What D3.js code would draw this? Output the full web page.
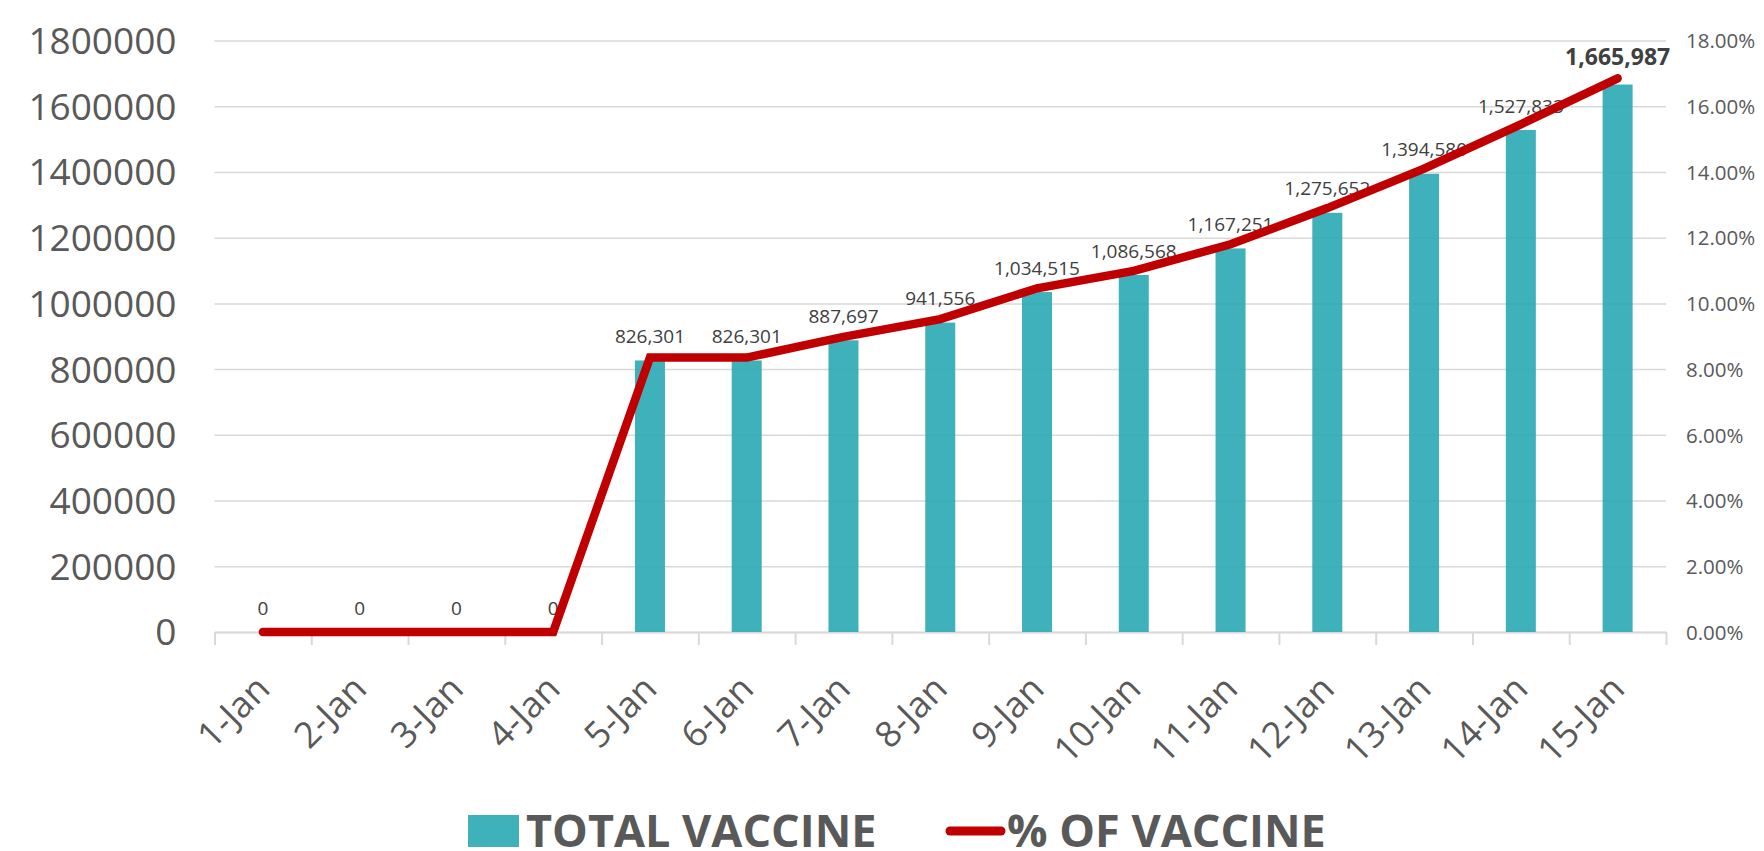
<!DOCTYPE html>
<html>
<head>
<meta charset="utf-8">
<script src="https://cdn.jsdelivr.net/npm/d3@7"></script>
<style>
  html, body { margin: 0; padding: 0; background: #fff; }
  svg { display: block; font-family: "Open Sans", "DejaVu Sans", sans-serif; }
  .grid line { stroke: #d9d9d9; stroke-width: 1.5; }
  .grid path { display: none; }
</style>
</head>
<body>
<svg id="chart" width="1764" height="851"></svg>
<script>
var dates = ["1-Jan","2-Jan","3-Jan","4-Jan","5-Jan","6-Jan","7-Jan","8-Jan",
  "9-Jan","10-Jan","11-Jan","12-Jan","13-Jan","14-Jan","15-Jan"];
var totalVaccine = [0,0,0,0,826301,826301,887697,941556,1034515,1086568,
  1167251,1275652,1394580,1527833,1665987];
// % of vaccine, in percent
var pctVaccine = [0,0,0,0,8.35,8.35,8.98,9.52,10.46,10.99,11.80,12.90,14.10,15.45,16.85];
var leftTicks = [0,200000,400000,600000,800000,1000000,1200000,1400000,1600000,1800000];
var rightTicks = [0,2,4,6,8,10,12,14,16,18];
var legendNames = ["TOTAL VACCINE","% OF VACCINE"];

var svg = d3.select("#chart");
var plotLeft = 214.5, plotRight = 1666, plotTop = 40.5, plotBottom = 632;

var x = d3.scaleBand().domain(dates).range([plotLeft,plotRight]).paddingInner(0.69).paddingOuter(0.345);
var xb = d3.scaleLinear().domain([0,dates.length]).range([plotLeft,plotRight]);
var y = d3.scaleLinear().domain([0,1800000]).range([plotBottom,plotTop]);
var y2 = d3.scaleLinear().domain([0,18]).range([plotBottom,plotTop]);

// gridlines
svg.append("g")
  .attr("class","grid")
  .attr("transform","translate("+plotLeft+",0)")
  .call(d3.axisLeft(y).tickValues(leftTicks).tickSize(-(plotRight-plotLeft)).tickFormat(""));

// left axis labels
var la = svg.append("g")
  .attr("transform","translate("+(plotLeft-38)+",0)")
  .call(d3.axisLeft(y).tickValues(leftTicks).tickSize(0).tickPadding(0).tickFormat(d3.format("d")));
la.select(".domain").remove();
la.selectAll("text")
  .attr("font-family","Open Sans")
  .attr("font-size",37)
  .attr("fill","#595959")
  .attr("dy","0.35em");

// right axis labels
var ra = svg.append("g")
  .attr("transform","translate("+(plotRight+20)+",0)")
  .call(d3.axisRight(y2).tickValues(rightTicks).tickSize(0).tickPadding(0)
    .tickFormat(function(d){ return d3.format(".2f")(d)+"%"; }));
ra.select(".domain").remove();
ra.selectAll("text")
  .attr("font-family","Open Sans")
  .attr("font-size",20.5)
  .attr("fill","#595959")
  .attr("dy","0.35em");

// category axis: baseline and boundary ticks
var xa = svg.append("g")
  .attr("transform","translate(0,"+plotBottom+")")
  .call(d3.axisBottom(xb).tickValues(d3.range(dates.length+1)).tickSize(13).tickFormat("").tickSizeOuter(0));
xa.select(".domain").attr("stroke","#d9d9d9").attr("stroke-width",2);
xa.selectAll(".tick line").attr("stroke","#d9d9d9").attr("stroke-width",2);

// category labels
svg.append("g").selectAll("text")
  .data(dates)
  .enter().append("text")
  .attr("transform",function(d){
    return "translate("+(x(d)+x.bandwidth()/2+9)+","+(plotBottom+59)+") rotate(-45)";
  })
  .attr("text-anchor","end")
  .attr("font-size",36)
  .attr("fill","#595959")
  .text(function(d){ return d; });

// bars
svg.append("g").selectAll("rect")
  .data(totalVaccine)
  .enter().append("rect")
  .attr("x",function(d,i){ return x(dates[i]); })
  .attr("y",function(d){ return y(d); })
  .attr("width",x.bandwidth())
  .attr("height",function(d){ return plotBottom-y(d); })
  .attr("fill","#2aa9b4")
  .attr("fill-opacity",0.9);

// data labels (the last one is drawn bold, over the line)
var last = totalVaccine.length-1;
svg.append("g").selectAll("text")
  .data(totalVaccine.slice(0,last))
  .enter().append("text")
  .attr("x",function(d,i){ return x(dates[i])+x.bandwidth()/2; })
  .attr("y",function(d){ return y(d)-24; })
  .attr("dy","0.35em")
  .attr("text-anchor","middle")
  .attr("font-size",19)
  .attr("fill","#404040")
  .text(function(d){ return d3.format(",")(d); });

// line
var line = d3.line()
  .x(function(d,i){ return x(dates[i])+x.bandwidth()/2; })
  .y(function(d){ return y2(d); });
svg.append("path")
  .datum(pctVaccine)
  .attr("d",line)
  .attr("fill","none")
  .attr("stroke","#c00000")
  .attr("stroke-width",8.5)
  .attr("stroke-linecap","round")
  .attr("stroke-linejoin","miter");

svg.append("text")
  .attr("x",x(dates[last])+x.bandwidth()/2)
  .attr("y",y(totalVaccine[last])-28)
  .attr("dy","0.35em")
  .attr("text-anchor","middle")
  .attr("font-size",23)
  .attr("font-weight","bold")
  .attr("fill","#404040")
  .text(d3.format(",")(totalVaccine[last]));

// legend
var lg = svg.append("g");
lg.append("rect")
  .attr("x",468).attr("y",815).attr("width",51).attr("height",32)
  .attr("fill","#2aa9b4").attr("fill-opacity",0.9);
lg.append("text")
  .attr("x",526).attr("y",847)
  .attr("font-size",45).attr("font-weight","bold").attr("fill","#595959")
  .text(legendNames[0]);
lg.append("line")
  .attr("x1",950).attr("x2",1001).attr("y1",831).attr("y2",831)
  .attr("stroke","#c00000").attr("stroke-width",9).attr("stroke-linecap","round");
lg.append("text")
  .attr("x",1007).attr("y",847)
  .attr("font-size",45).attr("font-weight","bold").attr("fill","#595959")
  .text(legendNames[1]);
</script>
</body>
</html>
